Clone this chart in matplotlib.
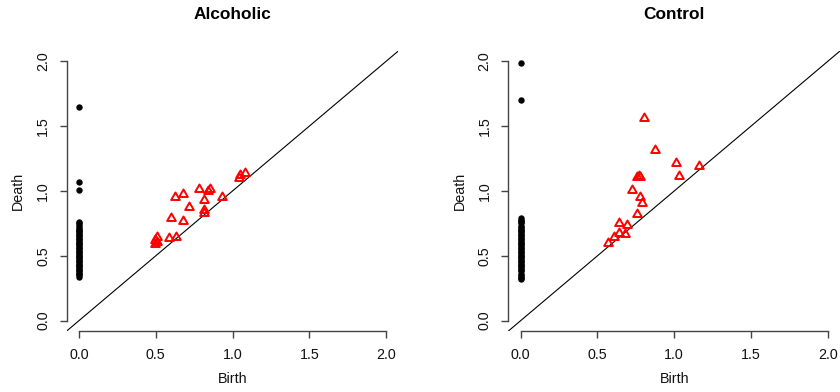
import numpy as np
import matplotlib
matplotlib.use('Agg')
import matplotlib.pyplot as plt
from matplotlib.path import Path

plt.rcParams['font.family'] = ['Liberation Sans', 'DejaVu Sans']

# --- data ---
alc_h0_death = [1.65, 1.07, 1.01, 0.76, 0.75, 0.74, 0.72, 0.71, 0.70, 0.69, 0.68,
                0.67, 0.66, 0.65, 0.64, 0.63, 0.62, 0.61, 0.60, 0.59, 0.58, 0.57,
                0.56, 0.55, 0.54, 0.53, 0.52, 0.51, 0.50, 0.49, 0.48, 0.47, 0.46,
                0.45, 0.44, 0.43, 0.42, 0.41, 0.40, 0.39, 0.38, 0.37, 0.36, 0.35,
                0.34]
alc_h1_birth = [0.498, 0.495, 0.509, 0.505, 0.585, 0.635, 0.602, 0.678, 0.628, 0.678,
                0.715, 0.780, 0.812, 0.812, 0.817, 0.841, 0.851, 0.932, 1.040, 1.051,
                1.083]
alc_h1_death = [0.621, 0.595, 0.647, 0.608, 0.634, 0.647, 0.794, 0.770, 0.951, 0.974,
                0.879, 1.013, 0.930, 0.853, 0.828, 1.002, 1.013, 0.956, 1.098, 1.124,
                1.137]

ctl_h0_death = [1.99, 1.70, 0.79, 0.78, 0.77, 0.76, 0.75, 0.73, 0.72, 0.71, 0.70,
                0.69, 0.68, 0.67, 0.66, 0.65, 0.64, 0.63, 0.62, 0.61, 0.60, 0.59,
                0.58, 0.57, 0.56, 0.55, 0.54, 0.53, 0.52, 0.51, 0.50, 0.49, 0.48,
                0.47, 0.46, 0.45, 0.44, 0.43, 0.42, 0.41, 0.40, 0.39, 0.38, 0.36,
                0.35, 0.34, 0.33, 0.32]
ctl_h1_birth = [0.802, 0.878, 1.012, 1.162, 1.034, 0.758, 0.780, 0.770, 0.726, 0.780,
                0.791, 0.758, 0.641, 0.693, 0.680, 0.641, 0.607, 0.566]
ctl_h1_death = [1.560, 1.318, 1.215, 1.192, 1.118, 1.110, 1.110, 1.115, 1.008, 0.950,
                0.905, 0.820, 0.757, 0.737, 0.672, 0.674, 0.646, 0.602]

panels = [
    ("Alcoholic", alc_h0_death, alc_h1_birth, alc_h1_death),
    ("Control", ctl_h0_death, ctl_h1_birth, ctl_h1_death),
]

# R style open triangle (pch = 2)
tri = Path([(0, 1.155), (-1, -0.577), (1, -0.577), (0, 1.155)],
           [Path.MOVETO, Path.LINETO, Path.LINETO, Path.CLOSEPOLY])

fig = plt.figure(figsize=(8.4, 3.92), dpi=100)
W, H = 840, 392
lefts = [66.7, 508.4]
axc = '#444444'

for (title, h0, b1, d1), lx in zip(panels, lefts):
    ax = fig.add_axes([lx / W, (H - 331) / H, 331.6 / W, 280 / H])
    ax.set_xlim(-0.08, 2.08)
    ax.set_ylim(-0.08, 2.08)
    ax.patch.set_alpha(0)

    ax.plot([-0.08, 2.08], [-0.08, 2.08], color='black', lw=0.8, zorder=1)
    ax.plot(np.zeros(len(h0)), h0, 'o', color='black', ms=4.6, mew=0, zorder=3)
    ax.plot(b1, d1, linestyle='none', marker=tri, ms=7.2, mfc='none',
            mec='red', mew=1.4, zorder=3)

    for s in ('top', 'right'):
        ax.spines[s].set_visible(False)
    for s in ('left', 'bottom'):
        ax.spines[s].set_bounds(0, 2)
        ax.spines[s].set_color(axc)
        ax.spines[s].set_linewidth(1.0)
    ticks = [0.0, 0.5, 1.0, 1.5, 2.0]
    ax.set_xticks(ticks)
    ax.set_yticks(ticks)
    ax.set_xticklabels(['%.1f' % t for t in ticks])
    ax.set_yticklabels(['%.1f' % t for t in ticks], rotation=90, va='center')
    ax.tick_params(direction='out', length=5, width=1.0, color=axc,
                   labelsize=10.3, labelcolor='#111111', pad=7)

    ax.text(0.5, 1.1286, title, transform=ax.transAxes, ha='center',
            va='center', fontsize=12.4, fontweight='bold')
    ax.text(0.5, -0.171, 'Birth', transform=ax.transAxes, ha='center',
            va='center', fontsize=10.3, color='#111111')
    ax.text(-0.147, 0.5, 'Death', transform=ax.transAxes, ha='center',
            va='center', rotation=90, fontsize=10.3, color='#111111')

fig.savefig('out.png', dpi=100)
